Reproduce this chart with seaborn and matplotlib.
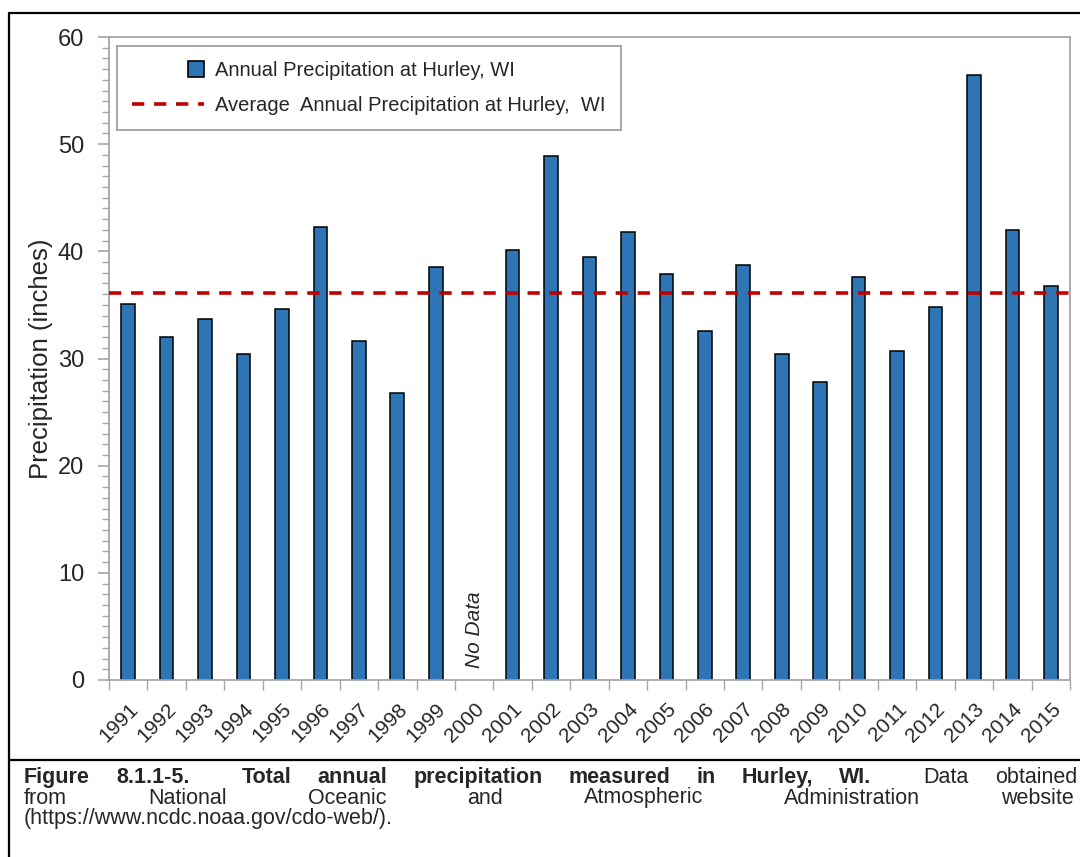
import numpy as np
import pandas as pd
import seaborn as sns
import matplotlib.pyplot as plt
from matplotlib.ticker import MultipleLocator
from matplotlib.patches import Rectangle
from matplotlib.lines import Line2D
from matplotlib.legend_handler import HandlerPatch

# --- data ---
years = [str(y) for y in range(1991, 2016)]
precip = [35.05, 32.0, 33.7, 30.4, 34.6, 42.25, 31.6, 26.8, 38.5, np.nan,
          40.1, 48.9, 39.5, 41.8, 37.9, 32.6, 38.7, 30.4, 27.8, 37.65,
          30.7, 34.8, 56.5, 42.0, 36.75]
avg_precip = 36.1
no_data_year = '2000'

bar_label = 'Annual Precipitation at Hurley, WI'
avg_label = 'Average  Annual Precipitation at Hurley,  WI'

# caption lines: (word, weight, spaces before the word)
caption_1 = [('Figure', 'bold', 0), ('8.1.1-5.', 'bold', 1), ('Total', 'bold', 2),
             ('annual', 'bold', 1), ('precipitation', 'bold', 1), ('measured', 'bold', 1),
             ('in', 'bold', 1), ('Hurley,', 'bold', 1), ('WI.', 'bold', 1),
             ('Data', 'normal', 2), ('obtained', 'normal', 1)]
caption_2 = [('from', 'normal', 0), ('National', 'normal', 1), ('Oceanic', 'normal', 1),
             ('and', 'normal', 1), ('Atmospheric', 'normal', 1),
             ('Administration', 'normal', 1), ('website', 'normal', 1)]
caption_3 = '(https://www.ncdc.noaa.gov/cdo-web/).'

df = pd.DataFrame({'year': years, 'precip': precip}).dropna()

sns.set_style('white')
plt.rcParams['font.family'] = ['Liberation Sans', 'DejaVu Sans']

fig = plt.figure(figsize=(10.8, 8.57), dpi=100)
W, H = 1080, 857
ax = fig.add_axes([109 / W, 1 - 680 / H, 961 / W, 643 / H])

bar_color = '#2E75B6'
red = '#C00000'
grey = '#A6A6A6'

sns.barplot(data=df, x='year', y='precip', order=years, ax=ax,
            color=bar_color, saturation=1, width=0.355,
            edgecolor='black', linewidth=1.1)

ax.axhline(avg_precip, color=red, lw=2.6, dashes=(3.4, 2.7), zorder=3)

ax.set_xlim(-0.5, len(years) - 0.5)
ax.set_ylim(0, 60)
ax.yaxis.set_major_locator(MultipleLocator(10))
ax.yaxis.set_minor_locator(MultipleLocator(1))
ax.set_xticks(np.arange(-0.5, len(years), 1), minor=True)

for s in ax.spines.values():
    s.set_visible(True)
    s.set_color(grey)
    s.set_linewidth(1.3)

ax.tick_params(axis='y', which='major', length=8, width=1.2, color=grey,
               labelsize=17, pad=10, direction='out', left=True)
ax.tick_params(axis='y', which='minor', length=5, width=1.0, color=grey,
               direction='out', left=True)
ax.tick_params(axis='x', which='major', length=0, labelsize=15, pad=14)
ax.tick_params(axis='x', which='minor', length=7, width=1.0, color=grey,
               direction='out', bottom=True)
for lab in ax.get_xticklabels():
    lab.set_rotation(45)
    lab.set_ha('right')
    lab.set_rotation_mode('anchor')

ax.set_xlabel('')
ax.set_ylabel('Precipitation (inches)', fontsize=18.5, labelpad=3)

# "No Data" marker for the missing year
ax.text(years.index(no_data_year), 1.1, 'No Data', rotation=90, style='italic',
        fontsize=15, ha='center', va='bottom')


# legend: square patch sitting at the right end of the handle
def square_patch(legend, orig_handle, xdescent, ydescent, width, height, fontsize):
    s = 11.5
    return Rectangle((width - xdescent - s, -ydescent + height / 2 - s / 2), s, s)


handles = [Rectangle((0, 0), 1, 1, facecolor=bar_color, edgecolor='black', lw=1.2),
           Line2D([], [], color=red, lw=2.6, dashes=(3.4, 2.7))]
leg = ax.legend(handles, [bar_label, avg_label], loc='upper left',
                bbox_to_anchor=(0.008, 0.986), fontsize=14.5, frameon=True,
                fancybox=False, framealpha=1, edgecolor=grey, borderpad=0.75,
                labelspacing=0.8, handlelength=3.6, handletextpad=0.55,
                borderaxespad=0,
                handler_map={Rectangle: HandlerPatch(patch_func=square_patch)})
leg.get_frame().set_linewidth(1.4)

# outer frame and caption divider
frame_kw = dict(color='black', lw=1.6, transform=fig.transFigure, clip_on=False)
fig.add_artist(Line2D([9 / W, 1.0], [1 - 13 / H, 1 - 13 / H], **frame_kw))
fig.add_artist(Line2D([9 / W, 9 / W], [1 - 13 / H, 0.0], **frame_kw))
fig.add_artist(Line2D([9 / W, 1.0], [1 - 760 / H, 1 - 760 / H], **frame_kw))

# caption, justified like the word-processor original
cap_fs = 15.5
renderer = fig.canvas.get_renderer()


def justified_line(words, y_px, x0, x1):
    texts = [fig.text(0, 1 - y_px / H, w, fontsize=cap_fs, fontweight=wt,
                      va='baseline', ha='left') for w, wt, _ in words]
    widths = [t.get_window_extent(renderer).width for t in texts]
    n_spaces = sum(ns for _, _, ns in words)
    gap = (x1 - x0 - sum(widths)) / n_spaces
    x = x0
    for t, wdt, (_, _, ns) in zip(texts, widths, words):
        x += ns * gap
        t.set_x(x / W)
        x += wdt


justified_line(caption_1, 783, 24, 1077)
justified_line(caption_2, 803.5, 24, 1074)
fig.text(24 / W, 1 - 824 / H, caption_3, fontsize=cap_fs, va='baseline', ha='left')

fig.savefig('out.png', dpi=100, facecolor='white')
